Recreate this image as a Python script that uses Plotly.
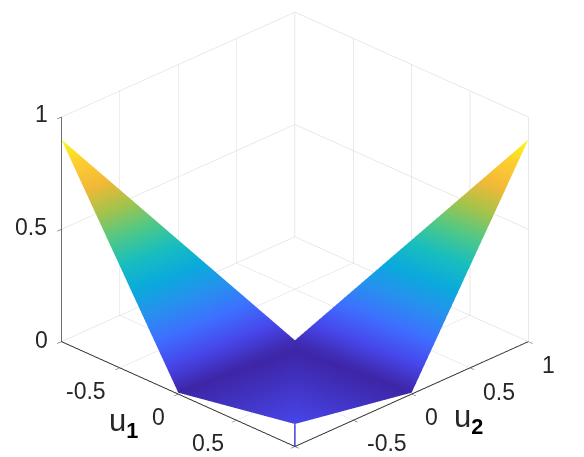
import plotly.graph_objects as go

# surface vertices
u1 = [-1, 0, 1, 0, 1, 1, 0.5, 0.1]
u2 = [-1, 0, 1, -1, 0, -1, -0.5, -0.1]
z_vals = [0.9, 0.006, 0.9, 0.006, 0.006, 0.1, 0.03, 0.006]
color_vals = [0.9, 0.02, 0.9, 0.0, 0.0, 0.09, 0.045, 0.0]
tri_i = [0, 1, 1, 1, 3, 4, 3, 4]
tri_j = [3, 4, 3, 4, 7, 7, 5, 5]
tri_k = [1, 2, 7, 7, 6, 6, 6, 6]

# the short blue stem at the near corner
stem_u1 = [1, 1]
stem_u2 = [-1, -1]
stem_z = [0, 0.1]

tick_xy = [-1, -0.5, 0, 0.5, 1]
tick_z = [0, 0.5, 1]

# tick labels: value, text, and pixel offset from the tick (as in the matlab figure)
u1_labels = [(-0.5, "-0.5", -34, 23), (0, "0", -20, 23), (0.5, "0.5", -29, 23)]
u2_labels = [(-0.5, "-0.5", 34, 23), (0, "0", 20, 23), (0.5, "0.5", 29, 24), (1, "1", 20, 23)]
z_labels = [(0, "0", -20, -2), (0.5, "0.5", -30, -2), (1, "1", -20, -3)]

parula = [
    [0.0, "rgb(62,38,168)"],
    [0.1, "rgb(71,71,235)"],
    [0.2, "rgb(62,111,255)"],
    [0.3, "rgb(39,145,238)"],
    [0.4, "rgb(10,170,220)"],
    [0.5, "rgb(25,190,190)"],
    [0.6, "rgb(80,200,135)"],
    [0.7, "rgb(165,195,75)"],
    [0.8, "rgb(240,185,55)"],
    [0.9, "rgb(253,205,50)"],
    [1.0, "rgb(249,251,20)"],
]

tick_font = dict(family="Liberation Sans", size=23, color="#262626")
label_font = dict(family="Liberation Sans", size=31, color="#262626")


def axis_style(rng, vals):
    return dict(
        range=rng, tickmode="array", tickvals=vals, showticklabels=False,
        title=dict(text=""), showbackground=False,
        showgrid=True, gridcolor="#d4d4d4", gridwidth=1,
        showline=True, linecolor="#262626", linewidth=2,
        ticks="outside", ticklen=6, tickcolor="#262626",
        zeroline=False, showspikes=False,
    )


def tick_note(x, y, z, text, dx, dy):
    return dict(x=x, y=y, z=z, text=text, showarrow=False, font=tick_font,
                xanchor="center", yanchor="middle", xshift=dx, yshift=-dy)


scene_notes = (
    [tick_note(v, -1, 0, t, dx, dy) for v, t, dx, dy in u1_labels]
    + [tick_note(1, v, 0, t, dx, dy) for v, t, dx, dy in u2_labels]
    + [tick_note(-1, -1, v, t, dx, dy) for v, t, dx, dy in z_labels]
)

fig = go.Figure()
fig.add_trace(go.Mesh3d(
    x=u1, y=u2, z=z_vals, i=tri_i, j=tri_j, k=tri_k,
    intensity=color_vals, colorscale=parula, cmin=0, cmax=0.9, showscale=False,
    flatshading=False,
    lighting=dict(ambient=1, diffuse=0, specular=0, roughness=1, fresnel=0),
))
fig.add_trace(go.Scatter3d(
    x=stem_u1, y=stem_u2, z=stem_z, mode="lines",
    line=dict(color="rgb(70,60,220)", width=3), showlegend=False,
))

fig.update_layout(
    width=584, height=457,
    margin=dict(l=0, r=0, t=0, b=0),
    paper_bgcolor="white",
    showlegend=False,
    scene=dict(
        domain=dict(x=[0, 1], y=[0, 1]),
        xaxis=axis_style([-1, 1], tick_xy),
        yaxis=axis_style([-1, 1], tick_xy),
        zaxis=axis_style([0, 1], tick_z),
        aspectmode="manual",
        aspectratio=dict(x=1.445, y=1.445, z=1.1),
        camera=dict(
            projection=dict(type="orthographic"),
            eye=dict(x=1.0157, y=-0.9843, z=0.676),
            center=dict(x=0.0157, y=0.0157, z=-0.035),
            up=dict(x=0, y=0, z=1),
        ),
        annotations=scene_notes,
    ),
    annotations=[
        dict(text='u<sub><span style="color:black"><b>1</b></span></sub>',
             x=115 / 584, y=1 - 415 / 457, xref="paper", yref="paper",
             xanchor="center", yanchor="middle", showarrow=False, font=label_font),
        dict(text='u<sub><span style="color:black"><b>2</b></span></sub>',
             x=460 / 584, y=1 - 411 / 457, xref="paper", yref="paper",
             xanchor="center", yanchor="middle", showarrow=False, font=label_font),
    ],
)

fig.write_html("out.html")
